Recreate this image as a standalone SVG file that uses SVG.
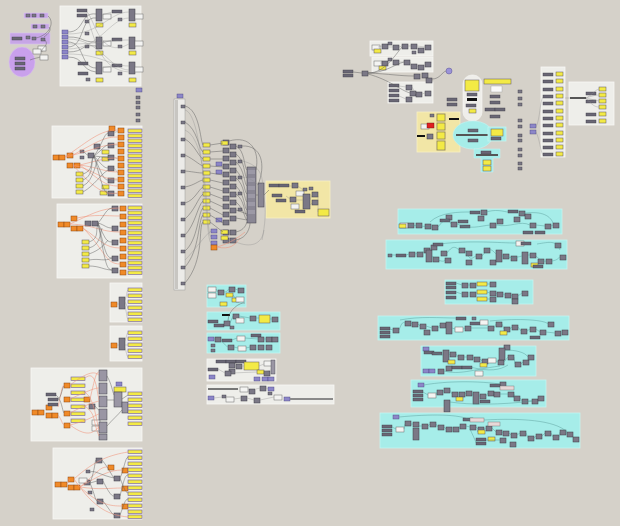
<svg xmlns="http://www.w3.org/2000/svg" xmlns:xlink="http://www.w3.org/1999/xlink" width="620" height="526" viewBox="0 0 620 526">
<style>
.bg{fill:#d5d1c9}
.gl{fill:#eeeeea;stroke:#f7f7f5;stroke-width:0.8}
.gc{fill:#a6ede9;stroke:#c4f4f1;stroke-width:0.8}
.gy{fill:#f2e6a6;stroke:#f8efc4;stroke-width:0.8}
.gp{fill:#c7a6e6;stroke:#d9c2f0;stroke-width:0.6}
.w{fill:none;stroke:#5f5f5f;stroke-width:0.6;opacity:0.8}
.wl{fill:none;stroke:#8c8c8c;stroke-width:0.5;opacity:0.7}
.wr{fill:none;stroke:#f0947a;stroke-width:0.8;opacity:0.7}
.cyw{fill:none;stroke:#4d8f8c;stroke-width:0.5;opacity:0.8}
</style>
<defs>
<rect id="c" width="6" height="5" fill="#7b7886" stroke="#3e3c46" stroke-width="0.5"/>
<rect id="cs" width="4" height="3" fill="#7b7886" stroke="#3e3c46" stroke-width="0.4"/>
<rect id="ct" width="6" height="12" fill="#7b7886" stroke="#3e3c46" stroke-width="0.5"/>
<rect id="cw" width="10" height="3" fill="#6a6775" stroke="#3e3c46" stroke-width="0.4"/>
<rect id="cp" width="6" height="4" fill="#8c86c8" stroke="#45407a" stroke-width="0.4"/>
<rect id="p" width="14" height="3.5" fill="#f3ea45" stroke="#6b58a8" stroke-width="0.6"/>
<rect id="ps" width="7" height="4" fill="#f3ea45" stroke="#5b5560" stroke-width="0.5"/>
<rect id="o" width="6" height="5" fill="#f08a28" stroke="#8a4510" stroke-width="0.5"/>
<rect id="wb" width="8" height="5" fill="#f4f4f2" stroke="#6a6a6a" stroke-width="0.5"/>
</defs>
<rect class="bg" x="0" y="0" width="620" height="526"/>

<!-- ===== GROUP SHAPES ===== -->
<g id="purple-cluster">
<rect class="gp" x="24" y="13" width="24" height="5"/>
<rect class="gp" x="31" y="24" width="18" height="5"/>
<rect class="gp" x="10" y="33" width="40" height="11"/>
<ellipse cx="22" cy="62" rx="13" ry="15" fill="#c9a0ec" stroke="#d9c0f0" stroke-width="0.6"/>
<use href="#cw" x="15" y="57"/><use href="#cw" x="15" y="62"/><use href="#cw" x="15" y="67"/>
<use href="#cs" x="26" y="14"/><use href="#cs" x="32" y="14"/><use href="#cs" x="40" y="14"/>
<use href="#cs" x="33" y="25"/><use href="#cs" x="41" y="25"/>
<use href="#cw" x="12" y="37"/><use href="#cs" x="26" y="36"/><use href="#cs" x="32" y="37"/><use href="#cs" x="41" y="38"/>
<use href="#wb" x="40" y="55"/><use href="#wb" x="38" y="46"/><use href="#wb" x="33" y="49"/>
</g>

<g id="group-a">
<rect class="gl" x="60" y="6" width="81" height="80"/>
<use href="#cp" x="62" y="30"/><use href="#cp" x="62" y="35"/><use href="#cp" x="62" y="40"/><use href="#cp" x="62" y="45"/><use href="#cp" x="62" y="50"/><use href="#cp" x="62" y="55"/>
<use href="#cw" x="77" y="9"/><use href="#cw" x="77" y="14"/><use href="#cs" x="85" y="20"/>
<use href="#ct" x="96" y="9"/><use href="#ct" x="96" y="37"/><use href="#ct" x="96" y="62"/>
<use href="#ps" x="96" y="23"/><use href="#ps" x="96" y="51"/><use href="#ps" x="96" y="78"/>
<use href="#wb" x="103" y="14"/><use href="#wb" x="103" y="41"/><use href="#wb" x="103" y="67"/>
<use href="#cw" x="112" y="10"/><use href="#cw" x="112" y="38"/><use href="#cw" x="112" y="64"/>
<use href="#cs" x="118" y="18"/><use href="#cs" x="118" y="45"/><use href="#cs" x="118" y="72"/>
<use href="#ct" x="129" y="9"/><use href="#ct" x="129" y="37"/><use href="#ct" x="129" y="62"/>
<use href="#ps" x="129" y="23"/><use href="#ps" x="129" y="51"/><use href="#ps" x="129" y="78"/>
<use href="#wb" x="135" y="14"/><use href="#wb" x="135" y="41"/><use href="#wb" x="135" y="67"/>
<use href="#cw" x="78" y="62"/><use href="#cw" x="78" y="72"/><use href="#cs" x="86" y="78"/>
<use href="#cs" x="85" y="32"/><use href="#cs" x="85" y="45"/>
</g>
<g id="stub-a"><use href="#cp" x="136" y="88"/><use href="#cs" x="136" y="96"/><use href="#cs" x="136" y="101"/><use href="#cs" x="136" y="106"/><use href="#cs" x="136" y="113"/><use href="#cs" x="136" y="119"/></g>

<g id="group-b">
<rect class="gl" x="52" y="126" width="90" height="72"/>
<use href="#o" x="53" y="155"/><use href="#o" x="59" y="155"/><use href="#o" x="67" y="153"/><use href="#o" x="67" y="163"/><use href="#o" x="74" y="163"/>
<use href="#cs" x="80" y="150"/><use href="#cs" x="80" y="156"/><use href="#c" x="88" y="153"/><use href="#c" x="94" y="144"/>
<use href="#ps" x="76" y="172"/><use href="#ps" x="76" y="178"/><use href="#ps" x="76" y="184"/><use href="#ps" x="76" y="190"/>
<use href="#ps" x="102" y="150"/><use href="#ps" x="102" y="157"/><use href="#ps" x="102" y="185"/><use href="#ps" x="100" y="191"/>
<use href="#c" x="108" y="131"/><use href="#c" x="108" y="143"/><use href="#c" x="108" y="155"/><use href="#c" x="108" y="166"/><use href="#c" x="108" y="178"/><use href="#c" x="108" y="191"/>
<use href="#o" x="109" y="126"/>
<use href="#o" x="118" y="128"/><use href="#o" x="118" y="135"/><use href="#o" x="118" y="142"/><use href="#o" x="118" y="149"/><use href="#o" x="118" y="156"/><use href="#o" x="118" y="163"/><use href="#o" x="118" y="170"/><use href="#o" x="118" y="177"/><use href="#o" x="118" y="184"/><use href="#o" x="118" y="191"/>
<use href="#p" x="128" y="129"/><use href="#p" x="128" y="134"/><use href="#p" x="128" y="139"/><use href="#p" x="128" y="144"/><use href="#p" x="128" y="149"/><use href="#p" x="128" y="154"/><use href="#p" x="128" y="159"/><use href="#p" x="128" y="164"/><use href="#p" x="128" y="169"/><use href="#p" x="128" y="174"/><use href="#p" x="128" y="179"/><use href="#p" x="128" y="184"/><use href="#p" x="128" y="189"/><use href="#p" x="128" y="194"/>
</g>

<g id="group-c">
<rect class="gl" x="57" y="204" width="85" height="74"/>
<use href="#o" x="58" y="222"/><use href="#o" x="64" y="222"/><use href="#o" x="71" y="216"/><use href="#o" x="71" y="226"/><use href="#o" x="77" y="226"/>
<use href="#c" x="85" y="221"/><use href="#c" x="92" y="221"/>
<use href="#ps" x="82" y="240"/><use href="#ps" x="82" y="246"/><use href="#ps" x="82" y="252"/><use href="#ps" x="82" y="258"/><use href="#ps" x="82" y="264"/>
<use href="#c" x="112" y="206"/><use href="#c" x="112" y="226"/><use href="#c" x="112" y="240"/><use href="#c" x="112" y="256"/><use href="#c" x="112" y="268"/>
<use href="#o" x="120" y="206"/><use href="#o" x="120" y="214"/><use href="#o" x="120" y="222"/><use href="#o" x="120" y="230"/><use href="#o" x="120" y="238"/><use href="#o" x="120" y="246"/><use href="#o" x="120" y="254"/><use href="#o" x="120" y="262"/><use href="#o" x="120" y="270"/>
<use href="#p" x="128" y="206"/><use href="#p" x="128" y="211"/><use href="#p" x="128" y="216"/><use href="#p" x="128" y="221"/><use href="#p" x="128" y="226"/><use href="#p" x="128" y="231"/><use href="#p" x="128" y="236"/><use href="#p" x="128" y="241"/><use href="#p" x="128" y="246"/><use href="#p" x="128" y="251"/><use href="#p" x="128" y="256"/><use href="#p" x="128" y="261"/><use href="#p" x="128" y="266"/><use href="#p" x="128" y="271"/>
</g>

<g id="group-d">
<rect class="gl" x="110" y="283" width="32" height="39"/>
<use href="#o" x="111" y="302"/><use href="#ct" x="119" y="297"/>
<use href="#p" x="128" y="288"/><use href="#p" x="128" y="294"/><use href="#p" x="128" y="300"/><use href="#p" x="128" y="306"/><use href="#p" x="128" y="312"/><use href="#p" x="128" y="318"/>
</g>
<g id="group-e">
<rect class="gl" x="110" y="326" width="32" height="35"/>
<use href="#o" x="111" y="343"/><use href="#ct" x="119" y="338"/>
<use href="#p" x="128" y="331"/><use href="#p" x="128" y="337"/><use href="#p" x="128" y="343"/><use href="#p" x="128" y="349"/><use href="#p" x="128" y="355"/>
</g>

<g id="group-f">
<rect class="gl" x="31" y="368" width="111" height="73"/>
<use href="#o" x="32" y="410"/><use href="#o" x="38" y="410"/><use href="#o" x="46" y="405"/><use href="#o" x="46" y="413"/><use href="#o" x="52" y="413"/>
<use href="#cw" x="46" y="393"/><use href="#cw" x="48" y="398"/><use href="#cw" x="48" y="403"/>
<use href="#o" x="64" y="383"/><use href="#o" x="64" y="397"/><use href="#o" x="64" y="411"/><use href="#o" x="64" y="423"/>
<use href="#p" x="71" y="377"/><use href="#p" x="71" y="384"/><use href="#p" x="71" y="391"/><use href="#p" x="71" y="398"/><use href="#p" x="71" y="405"/><use href="#p" x="71" y="412"/><use href="#p" x="71" y="419"/>
<use href="#o" x="84" y="397"/><use href="#c" x="89" y="404"/><use href="#wb" x="92" y="420"/><use href="#wb" x="92" y="426"/>
<rect x="99" y="370" width="8" height="11" fill="#9a96a4" stroke="#3e3c46" stroke-width="0.5"/>
<rect x="99" y="383" width="8" height="11" fill="#9a96a4" stroke="#3e3c46" stroke-width="0.5"/>
<rect x="99" y="396" width="8" height="11" fill="#9a96a4" stroke="#3e3c46" stroke-width="0.5"/>
<rect x="99" y="409" width="8" height="11" fill="#9a96a4" stroke="#3e3c46" stroke-width="0.5"/>
<rect x="99" y="422" width="8" height="11" fill="#9a96a4" stroke="#3e3c46" stroke-width="0.5"/>
<rect x="99" y="434" width="8" height="6" fill="#9a96a4" stroke="#3e3c46" stroke-width="0.5"/>
<use href="#cp" x="116" y="382"/><rect x="114" y="387" width="12" height="5" fill="#f3ea45" stroke="#5b5560" stroke-width="0.5"/>
<rect x="114" y="392" width="8" height="15" fill="#9a96a4" stroke="#3e3c46" stroke-width="0.5"/>
<rect x="122" y="402" width="6" height="11" fill="#9a96a4" stroke="#3e3c46" stroke-width="0.5"/>
<use href="#p" x="128" y="392"/><use href="#p" x="128" y="398"/><use href="#p" x="128" y="404"/><use href="#p" x="128" y="410"/><use href="#p" x="128" y="416"/><use href="#p" x="128" y="422"/>
</g>

<g id="group-g">
<rect class="gl" x="53" y="448" width="89" height="71"/>
<use href="#o" x="55" y="482"/><use href="#o" x="61" y="482"/><use href="#o" x="68" y="477"/><use href="#o" x="68" y="485"/><use href="#o" x="74" y="485"/>
<use href="#c" x="84" y="480"/><use href="#wb" x="79" y="478"/>
<use href="#c" x="96" y="458"/><use href="#c" x="97" y="479"/><use href="#c" x="97" y="499"/><use href="#cs" x="86" y="470"/><use href="#cs" x="88" y="491"/><use href="#cs" x="90" y="508"/>
<use href="#o" x="108" y="465"/><use href="#o" x="122" y="468"/><use href="#o" x="122" y="486"/><use href="#o" x="122" y="504"/><use href="#c" x="114" y="476"/><use href="#c" x="114" y="494"/><use href="#c" x="114" y="513"/>
<use href="#p" x="128" y="450"/><use href="#p" x="128" y="456"/><use href="#p" x="128" y="462"/><use href="#p" x="128" y="468"/><use href="#p" x="128" y="474"/><use href="#p" x="128" y="480"/><use href="#p" x="128" y="486"/><use href="#p" x="128" y="492"/><use href="#p" x="128" y="498"/><use href="#p" x="128" y="504"/><use href="#p" x="128" y="510"/><use href="#p" x="128" y="515"/>
</g>

<g id="slider-column">
<use href="#cp" x="177" y="94"/>
<rect x="174" y="99" width="11" height="191" fill="#ecebe8" stroke="#9a9a9a" stroke-width="0.5"/>
<rect x="175" y="100" width="3" height="189" fill="#c8c6c2"/>
<use href="#cs" x="181" y="105"/><use href="#cs" x="181" y="121"/><use href="#cs" x="181" y="138"/><use href="#cs" x="181" y="154"/><use href="#cs" x="181" y="170"/><use href="#cs" x="181" y="186"/><use href="#cs" x="181" y="202"/><use href="#cs" x="181" y="218"/><use href="#cs" x="181" y="234"/><use href="#cs" x="181" y="250"/><use href="#cs" x="181" y="266"/><use href="#cs" x="181" y="282"/>
</g>

<g id="center-cluster">
<use href="#ps" x="203" y="143"/><use href="#ps" x="203" y="150"/><use href="#ps" x="203" y="157"/><use href="#ps" x="203" y="164"/><use href="#ps" x="203" y="171"/><use href="#ps" x="203" y="178"/><use href="#ps" x="203" y="185"/><use href="#ps" x="203" y="192"/><use href="#ps" x="203" y="199"/><use href="#ps" x="203" y="206"/><use href="#ps" x="203" y="213"/><use href="#ps" x="203" y="220"/>
<use href="#cp" x="216" y="162"/><use href="#cp" x="216" y="170"/><use href="#cp" x="216" y="218"/><use href="#cp" x="211" y="229"/><use href="#cp" x="211" y="235"/><use href="#cp" x="211" y="241"/><use href="#o" x="211" y="245"/>
<use href="#c" x="223" y="140"/><use href="#c" x="223" y="148"/><use href="#c" x="223" y="156"/><use href="#c" x="223" y="164"/><use href="#c" x="223" y="172"/><use href="#c" x="223" y="180"/><use href="#c" x="223" y="188"/><use href="#c" x="223" y="196"/><use href="#c" x="223" y="204"/><use href="#c" x="223" y="212"/><use href="#c" x="223" y="220"/><use href="#c" x="223" y="230"/><use href="#c" x="223" y="238"/>
<use href="#ps" x="221" y="141"/><use href="#ps" x="221" y="230"/><use href="#ps" x="221" y="236"/>
<use href="#c" x="230" y="144"/><use href="#c" x="230" y="152"/><use href="#c" x="230" y="160"/><use href="#c" x="230" y="168"/><use href="#c" x="230" y="176"/><use href="#c" x="230" y="184"/><use href="#c" x="230" y="192"/><use href="#c" x="230" y="200"/><use href="#c" x="230" y="208"/><use href="#c" x="230" y="216"/><use href="#c" x="230" y="230"/><use href="#c" x="230" y="238"/>
<use href="#cs" x="238" y="145"/><use href="#cs" x="238" y="160"/><use href="#cs" x="238" y="176"/><use href="#cs" x="238" y="192"/><use href="#cs" x="238" y="208"/>
<rect x="247" y="167" width="9" height="56" fill="#8a8794" stroke="#3e3c46" stroke-width="0.5"/>
<rect x="248" y="170" width="7" height="4" fill="#9c99a6"/><rect x="248" y="178" width="7" height="4" fill="#9c99a6"/><rect x="248" y="186" width="7" height="4" fill="#9c99a6"/><rect x="248" y="194" width="7" height="4" fill="#9c99a6"/><rect x="248" y="202" width="7" height="4" fill="#9c99a6"/><rect x="248" y="210" width="7" height="4" fill="#9c99a6"/>
<rect x="258" y="183" width="6" height="24" fill="#8a8794" stroke="#3e3c46" stroke-width="0.5"/>
</g>

<g id="group-yellow-mid">
<rect class="gy" x="266" y="181" width="64" height="37"/>
<use href="#cw" x="269" y="184"/><use href="#cw" x="279" y="184"/><use href="#c" x="292" y="183"/><use href="#wb" x="296" y="191"/><use href="#cs" x="303" y="188"/><use href="#cs" x="309" y="187"/>
<use href="#cw" x="272" y="194"/><use href="#cw" x="276" y="199"/><use href="#c" x="290" y="197"/><use href="#wb" x="291" y="204"/>
<rect x="303" y="194" width="7" height="15" fill="#7b7886" stroke="#3e3c46" stroke-width="0.5"/>
<use href="#c" x="312" y="192"/><use href="#c" x="312" y="200"/><use href="#cw" x="295" y="210"/>
<rect x="318" y="209" width="11" height="7" fill="#f3ea45" stroke="#5b5560" stroke-width="0.5"/>
</g>

<g id="cyan-small-1">
<rect class="gc" x="207" y="285" width="39" height="22"/>
<use href="#wb" x="208" y="287"/><use href="#wb" x="208" y="293"/><use href="#c" x="218" y="290"/><use href="#c" x="229" y="287"/><use href="#c" x="238" y="288"/>
<use href="#ps" x="226" y="293"/><use href="#ps" x="232" y="298"/><use href="#ps" x="220" y="302"/><use href="#wb" x="236" y="297"/>
</g>
<g id="cyan-small-2">
<rect class="gc" x="207" y="312" width="73" height="18"/>
<rect x="222" y="314" width="8" height="2" fill="#111"/><use href="#cw" x="208" y="320"/><use href="#cw" x="214" y="324"/><use href="#c" x="224" y="321"/>
<use href="#c" x="233" y="314"/><use href="#wb" x="236" y="318"/><use href="#c" x="250" y="316"/>
<rect x="259" y="315" width="11" height="8" fill="#f3ea45" stroke="#5b5560" stroke-width="0.5"/><use href="#c" x="272" y="317"/><use href="#cs" x="230" y="326"/>
</g>
<g id="cyan-small-3">
<rect class="gc" x="207" y="333" width="73" height="20"/>
<use href="#cp" x="208" y="337"/><use href="#c" x="215" y="337"/><use href="#cw" x="222" y="339"/><use href="#wb" x="237" y="336"/>
<use href="#cw" x="251" y="334"/><use href="#c" x="258" y="337"/><use href="#c" x="266" y="337"/><use href="#c" x="272" y="337"/>
<use href="#cs" x="211" y="344"/><use href="#cs" x="211" y="349"/><use href="#c" x="228" y="345"/><use href="#wb" x="238" y="346"/><use href="#c" x="250" y="345"/><use href="#c" x="258" y="345"/><use href="#c" x="266" y="345"/>
</g>
<g id="light-small-4">
<rect class="gl" x="207" y="359" width="69" height="22"/>
<use href="#cw" x="216" y="360"/><use href="#cw" x="226" y="360"/><use href="#cw" x="236" y="360"/><use href="#c" x="229" y="363"/><use href="#c" x="229" y="369"/><use href="#c" x="236" y="364"/>
<rect x="244" y="362" width="15" height="8" fill="#f3ea45" stroke="#5b5560" stroke-width="0.5"/><use href="#wb" x="264" y="361"/><rect x="271" y="360" width="4" height="14" fill="#9a96a4" stroke="#3e3c46" stroke-width="0.4"/>
<use href="#cw" x="208" y="368"/><use href="#c" x="225" y="371"/><use href="#ps" x="257" y="370"/><use href="#c" x="264" y="371"/><use href="#cp" x="209" y="375"/><use href="#cp" x="254" y="377"/><use href="#cp" x="262" y="377"/><use href="#cp" x="268" y="377"/>
</g>
<g id="light-small-5">
<rect class="gl" x="207" y="385" width="127" height="19"/>
<rect x="208" y="388" width="30" height="2" fill="#777"/><use href="#wb" x="240" y="387"/><use href="#c" x="249" y="389"/><use href="#c" x="260" y="386"/><use href="#cp" x="268" y="387"/><use href="#cs" x="268" y="392"/>
<use href="#cp" x="208" y="396"/><use href="#cs" x="222" y="395"/><use href="#wb" x="226" y="397"/><use href="#c" x="241" y="396"/><use href="#c" x="254" y="398"/><use href="#wb" x="274" y="395"/><use href="#cp" x="284" y="397"/>
<rect x="290" y="398" width="43" height="2" fill="#8a8a8a"/>
</g>

<g id="top-right-groups">
<rect class="gl" x="370" y="41" width="63" height="15"/>
<rect class="gl" x="372" y="57" width="61" height="15"/>
<rect class="gl" x="388" y="82" width="45" height="21"/>
<use href="#wb" x="372" y="45"/><use href="#c" x="382" y="44"/><use href="#cs" x="388" y="42"/><use href="#c" x="393" y="45"/><use href="#c" x="402" y="44"/><use href="#c" x="411" y="44"/><use href="#c" x="418" y="48"/><use href="#c" x="425" y="45"/><use href="#ps" x="374" y="49"/><use href="#cs" x="412" y="51"/>
<use href="#wb" x="374" y="61"/><use href="#c" x="382" y="61"/><use href="#cs" x="388" y="58"/><use href="#c" x="393" y="60"/><use href="#c" x="404" y="60"/><use href="#c" x="411" y="64"/><use href="#c" x="418" y="65"/><use href="#c" x="425" y="62"/><use href="#ps" x="379" y="66"/>
<use href="#cw" x="389" y="84"/><use href="#cw" x="389" y="89"/><use href="#cw" x="389" y="94"/><use href="#cw" x="389" y="99"/><use href="#c" x="406" y="85"/><use href="#c" x="410" y="91"/><use href="#c" x="406" y="97"/><use href="#c" x="416" y="92"/><use href="#c" x="425" y="91"/>
<use href="#cw" x="343" y="70"/><use href="#cw" x="343" y="74"/><use href="#c" x="362" y="71"/><use href="#c" x="414" y="74"/><use href="#c" x="422" y="73"/><use href="#c" x="426" y="78"/>
<circle cx="449" cy="71" r="3" fill="#9b93d8" stroke="#5a5296" stroke-width="0.5"/>
</g>

<g id="pill-group">
<rect x="463" y="75" width="19" height="46" rx="9" fill="#efeeea" stroke="#f8f8f6" stroke-width="0.6"/>
<rect x="465" y="80" width="14" height="11" fill="#f3ea45" stroke="#5b5560" stroke-width="0.5"/>
<use href="#cw" x="467" y="93"/><rect x="467" y="98" width="10" height="3" fill="#111"/><use href="#cw" x="466" y="104"/><use href="#ps" x="469" y="109"/>
<rect x="484" y="79" width="27" height="5" fill="#f3ea45" stroke="#5b5560" stroke-width="0.5"/>
<rect x="491" y="86" width="11" height="6" fill="#fafafa" stroke="#999" stroke-width="0.4"/>
<use href="#cw" x="490" y="95"/><use href="#cw" x="490" y="101"/><use href="#cw" x="485" y="108"/><use href="#cw" x="495" y="108"/><use href="#cw" x="490" y="115"/>
<use href="#cw" x="447" y="98"/><use href="#cw" x="447" y="103"/>
</g>

<g id="yellow-input-group">
<rect class="gy" x="417" y="112" width="43" height="40"/>
<rect x="436" y="113" width="10" height="38" fill="#e9dd90"/>
<rect x="437" y="114" width="8" height="7" fill="#f3ea45" stroke="#5b5560" stroke-width="0.5"/>
<rect x="437" y="123" width="8" height="7" fill="#f3ea45" stroke="#5b5560" stroke-width="0.5"/>
<rect x="437" y="132" width="8" height="7" fill="#f3ea45" stroke="#5b5560" stroke-width="0.5"/>
<rect x="437" y="141" width="8" height="9" fill="#f3ea45" stroke="#5b5560" stroke-width="0.5"/>
<use href="#cs" x="430" y="114"/><use href="#wb" x="421" y="124"/><rect x="427" y="123" width="7" height="5" fill="#e02020" stroke="#601010" stroke-width="0.4"/>
<rect x="417" y="135" width="8" height="2" fill="#111"/><use href="#c" x="427" y="134"/>
<rect x="449" y="118" width="10" height="2" fill="#111"/>
</g>
<g id="cyan-ellipse-group">
<ellipse cx="473" cy="135" rx="20" ry="14" fill="#a6ede9" stroke="#c4f4f1" stroke-width="0.6"/>
<use href="#cw" x="468" y="129"/><rect x="456" y="134" width="35" height="2" fill="#555"/><use href="#cw" x="468" y="139"/>
<rect class="gc" x="488" y="127" width="18" height="14"/>
<rect x="491" y="129" width="12" height="7" fill="#f3ea45" stroke="#5b5560" stroke-width="0.5"/><use href="#cw" x="491" y="137"/>
<path d="M474,149 H500 V158 H493 V172 H481 V158 H474 Z" fill="#a6ede9" stroke="#c4f4f1" stroke-width="0.6"/>
<use href="#cw" x="481" y="151"/><rect x="476" y="154" width="22" height="2" fill="#555"/>
<rect x="483" y="160" width="8" height="5" fill="#f3ea45" stroke="#5b5560" stroke-width="0.5"/><rect x="483" y="166" width="8" height="5" fill="#f3ea45" stroke="#5b5560" stroke-width="0.5"/>
</g>

<g id="right-stubs">
<use href="#cs" x="518" y="90"/><use href="#cs" x="518" y="97"/><use href="#cs" x="518" y="103"/><use href="#cs" x="518" y="119"/><use href="#cs" x="518" y="125"/><use href="#cs" x="518" y="134"/><use href="#cs" x="518" y="139"/><use href="#cs" x="518" y="148"/><use href="#cs" x="518" y="154"/><use href="#cs" x="518" y="162"/><use href="#cs" x="518" y="167"/>
<use href="#cp" x="530" y="124"/><use href="#cp" x="530" y="130"/>
</g>
<g id="panel-group-1">
<rect class="gl" x="541" y="67" width="24" height="90"/>
<use href="#cw" x="543" y="73"/><use href="#ps" x="556" y="72"/>
<use href="#cw" x="543" y="80"/><use href="#ps" x="556" y="79"/>
<use href="#cw" x="543" y="88"/><use href="#ps" x="556" y="87"/>
<use href="#cw" x="543" y="95"/><use href="#ps" x="556" y="94"/>
<use href="#cw" x="543" y="102"/><use href="#ps" x="556" y="101"/>
<use href="#cw" x="543" y="110"/><use href="#ps" x="556" y="109"/>
<use href="#cw" x="543" y="117"/><use href="#ps" x="556" y="116"/>
<use href="#cw" x="543" y="124"/><use href="#ps" x="556" y="123"/>
<use href="#cw" x="543" y="132"/><use href="#ps" x="556" y="131"/>
<use href="#cw" x="543" y="139"/><use href="#ps" x="556" y="138"/>
<use href="#cw" x="543" y="146"/><use href="#ps" x="556" y="145"/>
<use href="#cw" x="543" y="153"/><use href="#ps" x="556" y="152"/>
</g>
<g id="panel-group-2">
<rect class="gl" x="569" y="82" width="45" height="43"/>
<rect x="570" y="97" width="16" height="2" fill="#555"/>
<use href="#cw" x="586" y="92"/><use href="#cw" x="586" y="100"/><use href="#cw" x="586" y="113"/><use href="#cw" x="586" y="120"/>
<use href="#ps" x="599" y="87"/><use href="#ps" x="599" y="93"/><use href="#ps" x="599" y="99"/><use href="#ps" x="599" y="105"/><use href="#ps" x="599" y="112"/><use href="#ps" x="599" y="119"/>
</g>

<!-- cyan right groups -->
<g id="cyan-r1">
<rect class="gc" x="398" y="209" width="164" height="25"/>
<use href="#wb" x="400" y="223"/><use href="#c" x="408" y="223"/><use href="#c" x="416" y="223"/><use href="#c" x="425" y="224"/><use href="#c" x="432" y="225"/><use href="#c" x="446" y="215"/><use href="#cw" x="440" y="219"/><use href="#c" x="451" y="222"/>
<use href="#cw" x="470" y="211"/><use href="#c" x="481" y="210"/><use href="#c" x="478" y="216"/><use href="#cw" x="458" y="220"/><use href="#cw" x="460" y="225"/><use href="#c" x="490" y="223"/><use href="#c" x="497" y="219"/>
<use href="#cw" x="508" y="210"/><use href="#c" x="519" y="211"/><use href="#c" x="525" y="214"/><use href="#c" x="514" y="217"/><use href="#c" x="530" y="223"/><use href="#c" x="545" y="224"/><use href="#c" x="553" y="223"/><use href="#cw" x="535" y="231"/><use href="#cw" x="523" y="231"/>
<use href="#ps" x="399" y="224"/>
</g>
<g id="cyan-r2">
<rect class="gc" x="386" y="240" width="181" height="29"/>
<use href="#cs" x="388" y="254"/><use href="#cw" x="396" y="254"/><use href="#c" x="409" y="252"/><use href="#c" x="417" y="252"/><use href="#c" x="424" y="248"/><use href="#ct" x="426" y="250"/><use href="#c" x="433" y="257"/><use href="#c" x="441" y="251"/><use href="#c" x="445" y="258"/>
<use href="#c" x="459" y="248"/><use href="#c" x="466" y="251"/><use href="#c" x="466" y="260"/><use href="#c" x="476" y="254"/><use href="#c" x="484" y="248"/><use href="#c" x="490" y="260"/><use href="#ct" x="496" y="250"/><use href="#c" x="503" y="254"/><use href="#c" x="511" y="256"/>
<use href="#wb" x="516" y="241"/><use href="#cw" x="521" y="242"/><use href="#ct" x="522" y="252"/><use href="#c" x="530" y="253"/><use href="#c" x="538" y="259"/><use href="#c" x="546" y="259"/><use href="#c" x="555" y="243"/><use href="#c" x="560" y="255"/>
<use href="#c" x="431" y="245"/><use href="#cw" x="433" y="243"/><use href="#ps" x="531" y="263"/><use href="#cw" x="533" y="265"/>
</g>
<g id="cyan-r3">
<rect class="gc" x="445" y="280" width="88" height="24"/>
<use href="#cw" x="446" y="282"/><use href="#cw" x="446" y="286"/><use href="#cw" x="446" y="291"/><use href="#cw" x="446" y="296"/>
<use href="#c" x="462" y="283"/><use href="#c" x="470" y="283"/><rect x="477" y="282" width="10" height="4" fill="#f3ea45" stroke="#5b5560" stroke-width="0.5"/><use href="#c" x="490" y="282"/>
<use href="#c" x="462" y="292"/><use href="#c" x="470" y="292"/><rect x="477" y="290" width="10" height="4" fill="#f3ea45" stroke="#5b5560" stroke-width="0.5"/><use href="#c" x="490" y="291"/><use href="#c" x="497" y="292"/><use href="#c" x="505" y="293"/><use href="#c" x="512" y="294"/><use href="#c" x="522" y="291"/>
<rect x="477" y="297" width="10" height="4" fill="#f3ea45" stroke="#5b5560" stroke-width="0.5"/><use href="#c" x="490" y="297"/><use href="#c" x="512" y="299"/>
</g>
<g id="cyan-r4">
<rect class="gc" x="378" y="316" width="191" height="24"/>
<use href="#cw" x="380" y="327"/><use href="#cw" x="380" y="331"/><use href="#cw" x="380" y="335"/><use href="#c" x="393" y="328"/><use href="#c" x="405" y="321"/><use href="#c" x="412" y="322"/><use href="#c" x="420" y="324"/><use href="#c" x="424" y="330"/><use href="#c" x="432" y="326"/>
<use href="#c" x="440" y="323"/><use href="#ct" x="446" y="322"/><use href="#wb" x="455" y="327"/><use href="#c" x="465" y="326"/><use href="#cw" x="470" y="322"/><use href="#cs" x="472" y="317"/><use href="#wb" x="480" y="320"/><use href="#c" x="488" y="326"/>
<use href="#c" x="496" y="322"/><use href="#c" x="504" y="327"/><use href="#c" x="512" y="325"/><use href="#c" x="521" y="329"/><use href="#c" x="530" y="327"/><use href="#c" x="540" y="330"/><use href="#c" x="548" y="322"/><use href="#c" x="555" y="331"/><use href="#c" x="562" y="330"/>
<use href="#ps" x="500" y="331"/><use href="#cw" x="530" y="336"/><use href="#cw" x="456" y="317"/>
</g>
<g id="cyan-r5">
<rect class="gc" x="421" y="346" width="115" height="30"/>
<use href="#cp" x="423" y="347"/><use href="#cw" x="424" y="351"/><use href="#cw" x="432" y="352"/><use href="#ct" x="443" y="350"/><use href="#c" x="450" y="352"/><use href="#c" x="458" y="355"/><use href="#c" x="467" y="355"/>
<use href="#c" x="474" y="357"/><use href="#c" x="482" y="359"/><use href="#ps" x="480" y="363"/><use href="#wb" x="488" y="358"/><use href="#c" x="498" y="360"/><use href="#c" x="504" y="345"/><use href="#ct" x="499" y="348"/><use href="#c" x="508" y="355"/><use href="#c" x="515" y="362"/><use href="#c" x="523" y="360"/><use href="#c" x="528" y="355"/>
<use href="#cp" x="423" y="369"/><use href="#cp" x="429" y="369"/><use href="#c" x="438" y="369"/><use href="#c" x="446" y="366"/><use href="#cw" x="452" y="366"/><use href="#cw" x="462" y="366"/><use href="#wb" x="475" y="371"/><use href="#ps" x="448" y="360"/>
</g>
<g id="cyan-r6">
<rect class="gc" x="411" y="380" width="135" height="27"/>
<use href="#cp" x="418" y="383"/><use href="#cw" x="413" y="390"/><use href="#cw" x="413" y="394"/><use href="#cw" x="413" y="398"/><use href="#wb" x="428" y="393"/><use href="#c" x="437" y="390"/><use href="#c" x="444" y="388"/>
<use href="#c" x="452" y="392"/><use href="#c" x="459" y="392"/><use href="#c" x="466" y="391"/><use href="#ct" x="473" y="392"/><use href="#c" x="480" y="394"/><use href="#c" x="488" y="391"/><use href="#c" x="494" y="392"/>
<use href="#c" x="500" y="382"/><use href="#cw" x="490" y="384"/><rect x="500" y="386" width="14" height="4" fill="#e8d8d8" stroke="#6a6a6a" stroke-width="0.4"/><use href="#c" x="508" y="392"/><use href="#c" x="514" y="396"/><use href="#c" x="522" y="399"/><use href="#c" x="532" y="399"/><use href="#c" x="538" y="396"/>
<use href="#ps" x="456" y="397"/><use href="#ct" x="444" y="400"/><use href="#cw" x="480" y="400"/>
</g>
<g id="cyan-r7">
<rect class="gc" x="380" y="413" width="200" height="35"/>
<use href="#cp" x="393" y="415"/><use href="#cw" x="382" y="425"/><use href="#cw" x="382" y="429"/><use href="#cw" x="382" y="433"/><use href="#wb" x="396" y="427"/><use href="#c" x="405" y="421"/><use href="#c" x="413" y="422"/><use href="#ct" x="413" y="428"/>
<use href="#c" x="422" y="424"/><use href="#c" x="430" y="422"/><use href="#c" x="438" y="425"/><use href="#c" x="446" y="427"/><use href="#c" x="453" y="427"/><use href="#c" x="460" y="424"/><use href="#c" x="470" y="425"/><use href="#c" x="478" y="427"/><use href="#c" x="486" y="426"/>
<use href="#cw" x="463" y="418"/><rect x="470" y="418" width="14" height="4" fill="#e8d8d8" stroke="#6a6a6a" stroke-width="0.4"/><rect x="488" y="422" width="12" height="4" fill="#e8d8d8" stroke="#6a6a6a" stroke-width="0.4"/>
<use href="#c" x="496" y="430"/><use href="#c" x="503" y="431"/><use href="#c" x="511" y="433"/><use href="#c" x="520" y="431"/><use href="#c" x="528" y="436"/><use href="#c" x="536" y="434"/><use href="#c" x="545" y="431"/><use href="#c" x="553" y="435"/><use href="#c" x="560" y="430"/><use href="#c" x="567" y="432"/><use href="#c" x="573" y="437"/>
<use href="#cw" x="476" y="438"/><use href="#cw" x="476" y="442"/><use href="#ps" x="488" y="437"/><use href="#c" x="500" y="438"/><use href="#c" x="510" y="442"/><use href="#ps" x="478" y="430"/>
</g>

<!-- ===== CONNECTORS ===== -->
<g id="connectors">
<!-- purple cluster -->
<path class="w" d="M48,16 C55,22 50,35 36,38"/><path class="w" d="M49,27 C52,30 48,34 44,37"/><path class="w" d="M45,40 C50,46 40,48 42,52"/><path class="w" d="M30,60 C35,58 38,58 40,57"/>
<!-- group a -->
<path class="w" d="M68,32 C85,32 80,12 96,14"/><path class="w" d="M68,37 C85,37 80,42 96,42"/><path class="w" d="M68,42 C85,42 80,68 96,68"/><path class="w" d="M68,47 C85,47 80,16 96,18"/><path class="w" d="M68,52 C85,52 80,44 96,46"/><path class="w" d="M68,57 C85,57 80,70 96,72"/>
<path class="wl" d="M68,34 C100,34 110,12 129,12"/><path class="wl" d="M68,44 C100,44 110,40 129,40"/><path class="wl" d="M68,54 C100,54 110,66 129,66"/><path class="wl" d="M68,39 C100,39 110,70 129,70"/><path class="wl" d="M68,49 C100,49 110,18 129,18"/><path class="wl" d="M87,12 C95,20 100,60 129,44"/><path class="wl" d="M87,16 C95,40 100,70 129,72"/>
<path class="wl" d="M102,15 L112,12"/><path class="wl" d="M102,43 L112,40"/><path class="wl" d="M102,68 L112,66"/>
<!-- group b wires -->
<path class="wr" d="M65,157 C90,140 100,130 118,130"/><path class="wr" d="M65,157 C95,150 100,145 118,144"/><path class="wr" d="M73,165 C95,170 100,180 118,179"/><path class="wr" d="M73,165 C95,190 105,195 118,193"/><path class="wr" d="M80,165 C100,160 105,158 118,158"/><path class="wr" d="M80,165 C100,168 105,172 118,172"/><path class="wr" d="M73,155 C100,140 105,137 118,137"/><path class="wr" d="M80,165 C100,180 105,186 118,186"/>
<path class="w" d="M94,156 C102,145 104,134 108,133"/><path class="w" d="M94,156 C102,150 104,146 108,145"/><path class="w" d="M94,156 C102,157 104,157 108,157"/><path class="w" d="M94,156 C102,165 104,168 108,168"/><path class="w" d="M94,156 C102,175 104,180 108,180"/><path class="w" d="M94,156 C102,185 104,193 108,193"/>
<path class="w" d="M83,174 C95,170 90,158 94,156"/><path class="w" d="M83,180 C95,175 90,160 94,157"/><path class="w" d="M83,186 C95,180 95,160 100,157"/><path class="w" d="M83,192 C95,185 100,175 108,170"/><path class="w" d="M84,152 C88,155 86,155 88,155"/>
<path class="wl" d="M114,133 L118,131"/><path class="wl" d="M114,145 L118,145"/><path class="wl" d="M114,157 L118,159"/><path class="wl" d="M114,168 L118,173"/><path class="wl" d="M114,180 L118,180"/><path class="wl" d="M114,193 L118,194"/>
<!-- group c wires -->
<path class="wr" d="M70,224 C90,215 100,208 120,208"/><path class="wr" d="M70,224 C95,225 100,232 120,232"/><path class="wr" d="M83,228 C100,240 105,248 120,248"/><path class="wr" d="M83,228 C105,250 105,264 120,264"/><path class="wr" d="M77,218 C95,214 105,216 120,216"/>
<path class="w" d="M98,223 C105,215 106,209 112,208"/><path class="w" d="M98,223 C105,225 106,228 112,228"/><path class="w" d="M98,223 C105,238 106,242 112,242"/><path class="w" d="M98,223 C105,250 106,258 112,258"/><path class="w" d="M98,223 C105,260 106,270 112,270"/>
<path class="w" d="M89,242 C100,238 95,230 98,225"/><path class="w" d="M89,248 C100,245 100,235 102,228"/><path class="w" d="M89,254 C100,250 104,245 108,240"/><path class="w" d="M89,260 C100,258 104,262 112,258"/><path class="w" d="M89,266 C100,266 104,270 112,270"/>
<!-- group d/e -->
<path class="wl" d="M117,304 L119,304"/><path class="wl" d="M125,300 C127,295 127,290 128,290"/><path class="wl" d="M125,302 L128,308"/><path class="wl" d="M125,306 C127,315 127,319 128,319"/>
<path class="wl" d="M117,345 L119,345"/><path class="wl" d="M125,341 C127,335 127,333 128,333"/><path class="wl" d="M125,345 L128,345"/><path class="wl" d="M125,348 C127,355 127,356 128,357"/>
<!-- group f -->
<path class="wr" d="M58,407 C62,390 62,386 64,385"/><path class="wr" d="M58,415 C62,420 62,424 64,425"/><path class="wr" d="M70,385 C90,370 95,372 99,375"/><path class="wr" d="M70,399 C90,390 95,388 99,388"/><path class="wr" d="M70,413 C85,405 95,402 99,401"/><path class="wr" d="M70,425 C90,420 95,415 99,414"/><path class="wr" d="M70,425 C90,440 95,430 99,427"/><path class="wr" d="M85,378 C95,370 96,385 99,400"/><path class="wr" d="M85,392 C95,400 96,420 99,430"/><path class="wr" d="M85,406 C97,415 92,420 99,436"/><path class="wr" d="M90,399 C95,378 96,372 99,372"/>
<path class="w" d="M56,395 C62,400 62,410 64,413"/><path class="w" d="M58,400 C62,395 62,388 64,386"/><path class="w" d="M107,376 C112,385 112,390 114,395"/><path class="w" d="M107,400 C110,400 112,400 114,400"/><path class="w" d="M107,426 C112,420 118,415 122,410"/><path class="w" d="M122,399 L128,395"/><path class="w" d="M128,407 L128,407"/><path class="w" d="M95,406 C97,408 98,410 99,410"/>
<!-- group g -->
<path class="wr" d="M67,484 C70,480 70,479 68,479"/><path class="wr" d="M80,487 C100,470 100,467 108,467"/><path class="wr" d="M80,487 C100,475 110,470 122,470"/><path class="wr" d="M80,487 C100,490 110,488 122,488"/><path class="wr" d="M80,487 C100,505 110,506 122,506"/><path class="wr" d="M74,479 C95,460 110,455 128,452"/><path class="wr" d="M74,479 C95,510 110,515 128,517"/>
<path class="w" d="M90,483 C95,470 95,460 96,460"/><path class="w" d="M90,483 L97,481"/><path class="w" d="M90,483 C95,495 95,500 97,501"/><path class="w" d="M102,460 C110,470 112,476 114,478"/><path class="w" d="M103,481 C110,495 112,496 114,496"/><path class="w" d="M103,501 C110,510 112,514 114,515"/><path class="w" d="M120,478 C124,470 125,458 128,457"/><path class="w" d="M120,496 C124,480 125,475 128,475"/><path class="w" d="M120,515 C124,505 125,499 128,499"/><path class="w" d="M120,478 C124,488 125,492 128,493"/><path class="w" d="M90,472 C95,470 100,475 114,478"/>
<!-- slider column to center -->
<path class="w" d="M185,106 C200,110 200,140 203,145"/><path class="w" d="M185,122 C198,130 198,148 203,152"/><path class="w" d="M185,139 C195,145 198,156 203,159"/><path class="w" d="M185,155 C195,160 198,164 203,166"/><path class="w" d="M185,171 C195,172 198,173 203,173"/><path class="w" d="M185,187 C195,185 198,181 203,180"/><path class="w" d="M185,203 C195,200 198,190 203,187"/><path class="w" d="M185,219 C195,210 198,198 203,194"/><path class="w" d="M185,235 C195,225 198,205 203,201"/><path class="w" d="M185,251 C198,240 198,212 203,208"/><path class="w" d="M185,267 C200,250 198,220 203,215"/><path class="w" d="M185,283 C205,260 198,226 203,222"/>
<path class="wl" d="M185,110 C205,115 205,240 211,243"/><path class="wl" d="M185,130 C210,140 205,232 211,237"/><path class="wl" d="M185,260 C195,250 205,235 211,231"/>
<path class="wr" d="M217,247 C228,244 238,238 245,232"/><path class="wr" d="M217,247 C230,250 235,245 240,238"/>
<!-- center cluster internal -->
<path class="w" d="M210,145 L223,143"/><path class="w" d="M210,152 L223,151"/><path class="w" d="M210,159 L223,159"/><path class="w" d="M210,166 L223,167"/><path class="w" d="M210,173 L223,175"/><path class="w" d="M210,180 L223,183"/><path class="w" d="M210,187 L223,191"/><path class="w" d="M210,194 L223,199"/><path class="w" d="M210,201 L223,207"/><path class="w" d="M210,208 L223,215"/><path class="w" d="M210,215 L223,223"/><path class="w" d="M210,222 L223,232"/>
<path class="w" d="M236,146 C245,150 244,168 247,170"/><path class="w" d="M236,154 C245,160 244,176 247,178"/><path class="w" d="M236,162 C245,170 244,184 247,186"/><path class="w" d="M236,170 C245,180 244,192 247,194"/><path class="w" d="M236,178 C245,185 244,200 247,202"/><path class="w" d="M236,186 C245,195 244,208 247,210"/><path class="w" d="M236,194 C245,200 244,214 247,216"/><path class="w" d="M236,202 C245,210 244,218 247,220"/><path class="w" d="M236,210 L247,214"/><path class="w" d="M236,218 L247,220"/><path class="w" d="M236,232 C245,230 246,224 247,222"/><path class="w" d="M236,240 C248,238 250,226 250,223"/>
<path class="w" d="M229,141 C250,135 260,150 256,170"/><path class="w" d="M242,146 C262,145 266,165 258,185"/><path class="w" d="M256,195 L258,195"/><path class="w" d="M264,195 L269,190"/><path class="wl" d="M242,161 C262,165 266,180 260,200"/><path class="wl" d="M242,177 C268,180 268,210 262,240"/><path class="wl" d="M236,242 C250,248 262,245 264,230"/>
<!-- yellow mid internal -->
<path class="wl" d="M289,186 L292,186"/><path class="wl" d="M298,186 L303,190"/><path class="wl" d="M286,196 L290,199"/><path class="wl" d="M296,200 L303,200"/><path class="wl" d="M310,200 L312,195"/><path class="wl" d="M310,205 L312,203"/><path class="wl" d="M318,196 L318,212"/>
<!-- small cyan groups -->
<path class="cyw" d="M216,289 L218,292"/><path class="cyw" d="M224,292 C228,292 228,289 229,289"/><path class="cyw" d="M235,289 L238,290"/><path class="cyw" d="M233,295 L236,299"/>
<path class="cyw" d="M230,323 L233,316"/><path class="cyw" d="M239,316 L250,318"/><path class="cyw" d="M256,318 L259,318"/><path class="cyw" d="M270,319 L272,319"/><path class="w" d="M228,321 C228,310 240,302 245,303"/>
<path class="cyw" d="M214,339 L215,339"/><path class="cyw" d="M232,340 L237,338"/><path class="cyw" d="M245,338 L258,339"/><path class="cyw" d="M264,339 L266,339"/><path class="cyw" d="M234,347 L238,348"/><path class="cyw" d="M246,348 L250,347"/><path class="cyw" d="M221,340 C225,345 226,346 228,347"/>
<path class="wl" d="M218,369 L225,373"/><path class="wl" d="M235,366 L244,366"/><path class="wl" d="M259,366 L264,364"/><path class="wl" d="M231,373 L257,372"/><path class="wl" d="M264,372 L271,370"/>
<path class="wl" d="M214,398 L222,397"/><path class="wl" d="M234,399 L241,398"/><path class="wl" d="M247,398 L254,400"/><path class="wl" d="M256,389 L260,388"/><path class="wl" d="M266,388 L268,389"/><path class="wl" d="M260,400 L274,397"/>
<!-- top right -->
<path class="w" d="M353,72 L362,73"/><path class="w" d="M368,73 C385,73 395,55 402,47"/><path class="w" d="M368,73 C385,73 395,64 404,62"/><path class="w" d="M368,73 C390,74 400,76 414,76"/><path class="w" d="M368,74 C390,80 400,90 410,93"/><path class="w" d="M432,79 C440,79 442,72 446,71"/><path class="wl" d="M378,47 L382,46"/><path class="wl" d="M388,47 L393,47"/><path class="wl" d="M399,47 L402,46"/><path class="wl" d="M408,46 L411,46"/><path class="wl" d="M417,46 L425,47"/><path class="wl" d="M380,63 L382,63"/><path class="wl" d="M399,62 L404,62"/><path class="wl" d="M410,62 L411,66"/><path class="wl" d="M417,66 L418,67"/><path class="wl" d="M399,86 L406,87"/><path class="wl" d="M399,96 L406,99"/><path class="wl" d="M412,87 L416,94"/><path class="wl" d="M422,94 L425,93"/>
<path class="wl" d="M536,127 C540,120 540,100 543,97"/><path class="wl" d="M536,132 C540,140 540,150 543,155"/><path class="wl" d="M565,98 L570,98"/><path class="wl" d="M586,98 C592,95 595,90 599,89"/><path class="wl" d="M586,98 C592,96 595,95 599,95"/><path class="wl" d="M586,98 L599,101"/><path class="wl" d="M586,98 C592,105 595,107 599,107"/>
<!-- right cyan wires -->
<path class="cyw" d="M408,225 L432,227"/><path class="cyw" d="M438,227 C445,218 448,217 451,224"/><path class="cyw" d="M457,224 C470,230 480,226 490,225"/><path class="cyw" d="M484,213 C495,208 505,212 508,212"/><path class="cyw" d="M496,225 C510,228 520,220 530,225"/><path class="cyw" d="M536,225 L545,226"/><path class="cyw" d="M551,226 L553,225"/><path class="cyw" d="M430,222 C440,212 460,212 470,212"/><path class="cyw" d="M520,214 C540,210 550,215 553,223"/>
<path class="cyw" d="M391,255 L396,255"/><path class="cyw" d="M406,255 L409,254"/><path class="cyw" d="M415,254 L424,252"/><path class="cyw" d="M432,256 C440,262 444,262 445,260"/><path class="cyw" d="M447,253 C452,246 455,246 459,250"/><path class="cyw" d="M465,250 C470,262 472,258 476,256"/><path class="cyw" d="M482,256 C490,246 492,250 496,254"/><path class="cyw" d="M502,256 C510,258 515,258 522,256"/><path class="cyw" d="M528,255 L530,255"/><path class="cyw" d="M536,256 C540,260 544,262 546,261"/><path class="cyw" d="M552,261 C558,260 558,258 560,257"/><path class="cyw" d="M537,244 C550,242 556,240 560,250"/><path class="cyw" d="M440,244 C470,240 500,243 516,243"/>
<path class="cyw" d="M456,283 L462,285"/><path class="cyw" d="M456,292 L462,294"/><path class="cyw" d="M468,285 L470,285"/><path class="cyw" d="M487,284 L490,284"/><path class="cyw" d="M487,292 L490,293"/><path class="cyw" d="M496,293 L497,294"/><path class="cyw" d="M503,294 L505,295"/><path class="cyw" d="M511,295 L512,296"/><path class="cyw" d="M518,296 L522,293"/><path class="cyw" d="M487,299 L490,299"/>
<path class="cyw" d="M390,329 L393,330"/><path class="cyw" d="M399,330 C402,322 403,322 405,323"/><path class="cyw" d="M411,323 L412,324"/><path class="cyw" d="M418,324 L420,326"/><path class="cyw" d="M426,326 L432,328"/><path class="cyw" d="M438,328 L440,325"/><path class="cyw" d="M452,328 L455,329"/><path class="cyw" d="M463,329 L465,328"/><path class="cyw" d="M471,328 L488,328"/><path class="cyw" d="M494,328 L496,324"/><path class="cyw" d="M502,324 L504,329"/><path class="cyw" d="M510,329 L512,327"/><path class="cyw" d="M518,327 L521,331"/><path class="cyw" d="M527,331 L530,329"/><path class="cyw" d="M536,329 L540,332"/><path class="cyw" d="M546,332 L555,333"/><path class="cyw" d="M400,320 C420,316 440,318 456,318"/><path class="cyw" d="M490,321 C520,318 545,320 548,324"/>
<path class="cyw" d="M434,353 L443,355"/><path class="cyw" d="M449,355 L450,354"/><path class="cyw" d="M456,354 L458,357"/><path class="cyw" d="M464,357 L467,357"/><path class="cyw" d="M473,357 L474,359"/><path class="cyw" d="M480,359 L482,361"/><path class="cyw" d="M496,361 L498,362"/><path class="cyw" d="M504,362 L508,357"/><path class="cyw" d="M514,357 L515,364"/><path class="cyw" d="M521,364 L523,362"/><path class="cyw" d="M444,371 C460,375 470,370 500,366"/><path class="cyw" d="M470,367 C490,372 500,370 508,365"/><path class="cyw" d="M505,350 C515,350 525,352 528,357"/>
<path class="cyw" d="M423,392 L428,395"/><path class="cyw" d="M436,395 L437,392"/><path class="cyw" d="M443,392 L444,390"/><path class="cyw" d="M450,390 L452,394"/><path class="cyw" d="M458,394 L459,394"/><path class="cyw" d="M465,394 L466,393"/><path class="cyw" d="M472,393 L473,396"/><path class="cyw" d="M479,396 L480,396"/><path class="cyw" d="M486,396 L488,393"/><path class="cyw" d="M494,393 L494,394"/><path class="cyw" d="M500,394 L508,394"/><path class="cyw" d="M514,394 L514,398"/><path class="cyw" d="M520,398 L522,401"/><path class="cyw" d="M528,401 L532,401"/><path class="cyw" d="M424,385 C440,382 470,380 500,384"/><path class="cyw" d="M450,402 C470,405 500,405 532,401"/>
<path class="cyw" d="M392,427 L396,429"/><path class="cyw" d="M404,429 L405,424"/><path class="cyw" d="M411,424 L413,424"/><path class="cyw" d="M419,426 L422,426"/><path class="cyw" d="M428,426 L430,424"/><path class="cyw" d="M436,424 L438,427"/><path class="cyw" d="M444,427 L446,429"/><path class="cyw" d="M459,429 L460,426"/><path class="cyw" d="M466,426 L470,427"/><path class="cyw" d="M476,427 L478,429"/><path class="cyw" d="M484,429 L486,428"/><path class="cyw" d="M492,428 L496,432"/><path class="cyw" d="M502,432 L503,433"/><path class="cyw" d="M509,433 L511,435"/><path class="cyw" d="M517,435 L520,433"/><path class="cyw" d="M526,433 L528,438"/><path class="cyw" d="M534,438 L536,436"/><path class="cyw" d="M542,436 L545,433"/><path class="cyw" d="M551,433 L553,437"/><path class="cyw" d="M559,437 L560,432"/><path class="cyw" d="M566,432 L567,434"/><path class="cyw" d="M399,417 C430,414 460,414 470,420"/><path class="cyw" d="M484,420 C520,418 555,420 567,432"/><path class="cyw" d="M486,440 C495,440 498,440 500,440"/><path class="cyw" d="M470,429 C475,440 476,442 476,443"/>
</g>
</svg>
